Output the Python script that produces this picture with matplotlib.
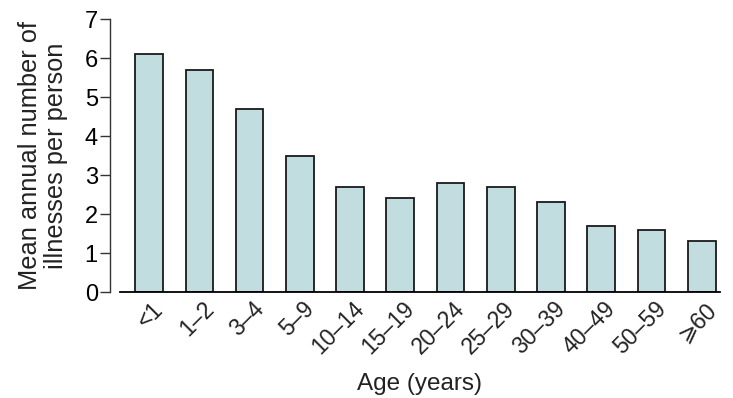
import matplotlib
matplotlib.use("Agg")
from matplotlib import pyplot as plt
from matplotlib import font_manager
from matplotlib import transforms

# Age groups and mean annual number of illnesses per person
age_groups = ["<1", "1\u20132", "3\u20134", "5\u20139", "10\u201314", "15\u201319",
              "20\u201324", "25\u201329", "30\u201339", "40\u201349", "50\u201359", "\u2a7e60"]
illnesses = [6.1, 5.7, 4.7, 3.5, 2.7, 2.4, 2.8, 2.7, 2.3, 1.7, 1.6, 1.3]
y_ticks = [0, 1, 2, 3, 4, 5, 6, 7]


def pick_font(names):
   '''Return the first installed family from names'''
   for name in names:
      try:
         font_manager.findfont(name, fallback_to_default=False)
         return name
      except Exception:
         pass
   return 'DejaVu Sans'


main_font = pick_font(['Liberation Sans', 'Arimo', 'Noto Sans'])
plt.rcParams['font.family'] = [main_font, 'DejaVu Sans']

fig = plt.figure(figsize=(7.33, 3.98), dpi=100)
ax = fig.add_axes([0.1637, 0.2663, 0.8183, 0.6857])

x = range(len(age_groups))
ax.bar(x, illnesses, width=0.55, color='#c2dde0', edgecolor='#1a1a1a', linewidth=1.3)

ax.set_xlim(-0.58, 11.36)
ax.set_ylim(0, 7)
ax.set_yticks(y_ticks)
ax.tick_params(axis='y', length=7, width=1, labelsize=17, pad=2, color='#333333')
ax.tick_params(axis='x', length=0, pad=4)

ax.set_xticks(list(x))
ax.set_xticklabels(age_groups, rotation=45, ha='right', rotation_mode='anchor',
                   fontsize=16.5, color='#222222')
# shift the rotated labels a little to the right of the bar centres
shift = transforms.ScaledTranslation(2 / 72, 0, fig.dpi_scale_trans)
for lbl in ax.get_xticklabels():
    lbl.set_transform(lbl.get_transform() + shift)

for side in ('top', 'right'):
    ax.spines[side].set_visible(False)
ax.spines['left'].set_position(('outward', 7))
ax.spines['left'].set_linewidth(1)
ax.spines['left'].set_color('#333333')
ax.spines['bottom'].set_linewidth(1.3)

ax.set_ylabel("Mean annual number of\nillnesses per person", fontsize=18.3,
              linespacing=1.1, labelpad=12, color='#222222')
ax.set_xlabel("Age (years)", fontsize=17.5, color='#222222', va='top')
ax.xaxis.set_label_coords(0.5, -0.295)

fig.savefig("out.png", dpi=100)
